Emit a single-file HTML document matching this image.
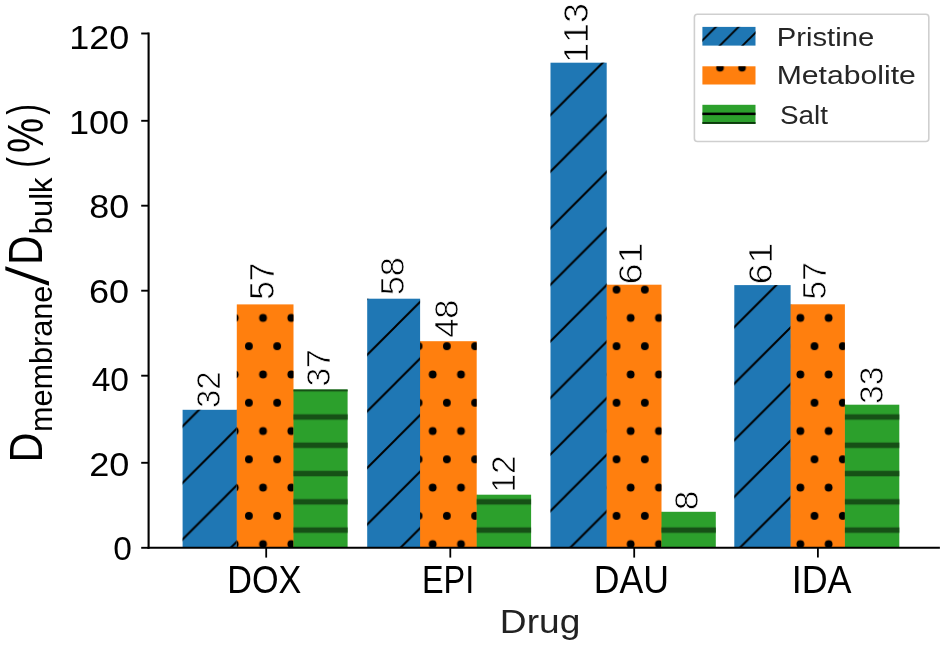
<!DOCTYPE html>
<html><head><meta charset="utf-8"><title>Chart</title>
<style>
html,body{margin:0;padding:0;background:#fff;}
body{width:944px;height:650px;overflow:hidden;}
svg{display:block;}
svg text{font-family:"Liberation Sans", sans-serif;font-kerning:none;white-space:pre;}
svg{will-change:transform;}
</style></head><body>
<svg width="944" height="650" viewBox="0 0 944 650">
<defs>
<pattern id="hd" patternUnits="userSpaceOnUse" x="0" y="43.16" width="56.57" height="56.57">
<path d="M-6,62.57 L62.57,-6 M-6,6 L6,-6 M50.57,62.57 L62.57,50.57" stroke="#000" stroke-width="2.0"/></pattern>
<pattern id="hp" patternUnits="userSpaceOnUse" x="22.66" y="6.84" width="28.28" height="56.56">
<circle cx="0" cy="0" r="3.9"/><circle cx="28.28" cy="0" r="3.9"/><circle cx="0" cy="56.56" r="3.9"/><circle cx="28.28" cy="56.56" r="3.9"/>
<circle cx="14.14" cy="28.28" r="3.9"/></pattern>
<pattern id="hh" patternUnits="userSpaceOnUse" x="0" y="6.94" width="50" height="28.28">
<rect x="0" y="11.39" width="50" height="5.5" fill="#165016"/></pattern>
<pattern id="ld" patternUnits="userSpaceOnUse" x="0" y="16.40" width="22.7" height="22.7">
<path d="M-5,27.7 L27.7,-5 M-5,5 L5,-5 M17.7,27.7 L27.7,17.7" stroke="#000" stroke-width="1.9"/></pattern>
</defs>
<rect x="182.6" y="409.8" width="54.20" height="138.00" fill="#1f77b4"/>
<rect x="236.30" y="409.8" width="1.3" height="138.00" fill="#1f77b4"/>
<rect x="182.6" y="409.8" width="54.20" height="138.00" fill="url(#hd)"/>
<rect x="236.8" y="304.4" width="56.70" height="243.40" fill="#ff7f0e"/>
<rect x="293.00" y="389.5" width="1.3" height="158.30" fill="#ff7f0e"/>
<rect x="236.8" y="304.4" width="56.70" height="243.40" fill="url(#hp)"/>
<rect x="293.5" y="389.5" width="54.10" height="158.30" fill="#2ca02c"/>
<rect x="293.5" y="389.5" width="54.10" height="158.30" fill="url(#hh)"/>
<rect x="367.2" y="298.7" width="52.90" height="249.10" fill="#1f77b4"/>
<rect x="419.60" y="341.2" width="1.3" height="206.60" fill="#1f77b4"/>
<rect x="367.2" y="298.7" width="52.90" height="249.10" fill="url(#hd)"/>
<rect x="420.1" y="341.2" width="56.60" height="206.60" fill="#ff7f0e"/>
<rect x="476.20" y="494.7" width="1.3" height="53.10" fill="#ff7f0e"/>
<rect x="420.1" y="341.2" width="56.60" height="206.60" fill="url(#hp)"/>
<rect x="476.7" y="494.7" width="54.40" height="53.10" fill="#2ca02c"/>
<rect x="476.7" y="494.7" width="54.40" height="53.10" fill="url(#hh)"/>
<rect x="550.5" y="62.7" width="56.20" height="485.10" fill="#1f77b4"/>
<rect x="606.20" y="284.7" width="1.3" height="263.10" fill="#1f77b4"/>
<rect x="550.5" y="62.7" width="56.20" height="485.10" fill="url(#hd)"/>
<rect x="606.7" y="284.7" width="54.80" height="263.10" fill="#ff7f0e"/>
<rect x="661.00" y="511.8" width="1.3" height="36.00" fill="#ff7f0e"/>
<rect x="606.7" y="284.7" width="54.80" height="263.10" fill="url(#hp)"/>
<rect x="661.5" y="511.8" width="54.30" height="36.00" fill="#2ca02c"/>
<rect x="661.5" y="511.8" width="54.30" height="36.00" fill="url(#hh)"/>
<rect x="734.3" y="285.1" width="56.30" height="262.70" fill="#1f77b4"/>
<rect x="790.10" y="304.3" width="1.3" height="243.50" fill="#1f77b4"/>
<rect x="734.3" y="285.1" width="56.30" height="262.70" fill="url(#hd)"/>
<rect x="790.6" y="304.3" width="54.30" height="243.50" fill="#ff7f0e"/>
<rect x="844.40" y="404.7" width="1.3" height="143.10" fill="#ff7f0e"/>
<rect x="790.6" y="304.3" width="54.30" height="243.50" fill="url(#hp)"/>
<rect x="844.9" y="404.7" width="54.40" height="143.10" fill="#2ca02c"/>
<rect x="844.9" y="404.7" width="54.40" height="143.10" fill="url(#hh)"/>
<line x1="148.6" y1="32.5" x2="148.6" y2="548.7" stroke="#000" stroke-width="2.1"/>
<line x1="147.5" y1="547.8" x2="939.9" y2="547.8" stroke="#000" stroke-width="1.9"/>
<line x1="141.2" y1="547.80" x2="148.6" y2="547.80" stroke="#000" stroke-width="1.9"/>
<line x1="141.2" y1="462.80" x2="148.6" y2="462.80" stroke="#000" stroke-width="1.9"/>
<line x1="141.2" y1="375.70" x2="148.6" y2="375.70" stroke="#000" stroke-width="1.9"/>
<line x1="141.2" y1="290.70" x2="148.6" y2="290.70" stroke="#000" stroke-width="1.9"/>
<line x1="141.2" y1="205.70" x2="148.6" y2="205.70" stroke="#000" stroke-width="1.9"/>
<line x1="141.2" y1="120.80" x2="148.6" y2="120.80" stroke="#000" stroke-width="1.9"/>
<line x1="141.2" y1="33.50" x2="148.6" y2="33.50" stroke="#000" stroke-width="1.9"/>
<line x1="266.2" y1="547.8" x2="266.2" y2="557.6" stroke="#000" stroke-width="1.8"/>
<line x1="450.3" y1="547.8" x2="450.3" y2="557.6" stroke="#000" stroke-width="1.8"/>
<line x1="634.2" y1="547.8" x2="634.2" y2="557.6" stroke="#000" stroke-width="1.8"/>
<line x1="817.9" y1="547.8" x2="817.9" y2="557.6" stroke="#000" stroke-width="1.8"/>
<text transform="translate(113.19,560.48) scale(1.0259,1)" font-size="32.63" fill="#000">0</text>
<text transform="translate(89.18,476.27) scale(1.0851,1)" font-size="33.33" fill="#000">20</text>
<text transform="translate(91.63,390.88) scale(1.0213,1)" font-size="32.91" fill="#000">40</text>
<text transform="translate(88.97,303.38) scale(1.1014,1)" font-size="32.77" fill="#000">60</text>
<text transform="translate(89.24,218.38) scale(1.0935,1)" font-size="32.77" fill="#000">80</text>
<text transform="translate(68.95,133.68) scale(1.1070,1)" font-size="32.63" fill="#000">100</text>
<text transform="translate(69.16,48.58) scale(1.0936,1)" font-size="32.91" fill="#000">120</text>
<text transform="translate(227.19,592.73) scale(0.9003,1)" font-size="37.99" fill="#000">DOX</text>
<text transform="translate(421.94,592.60) scale(0.8385,1)" font-size="38.66" fill="#000">EPI</text>
<text transform="translate(593.78,593.02) scale(0.9146,1)" font-size="38.98" fill="#000">DAU</text>
<text transform="translate(791.68,592.60) scale(0.9222,1)" font-size="38.95" fill="#000">IDA</text>
<text transform="translate(219.58,407.95) rotate(-90) scale(1.0044,1)" font-size="32.77" fill="#000" stroke="#fff" stroke-width="0.7">32</text>
<text transform="translate(274.36,299.84) rotate(-90) scale(0.9492,1)" font-size="35.26" fill="#000" stroke="#fff" stroke-width="0.7">57</text>
<text transform="translate(330.27,386.58) rotate(-90) scale(0.9952,1)" font-size="33.76" fill="#000" stroke="#fff" stroke-width="0.7">37</text>
<text transform="translate(403.98,295.28) rotate(-90) scale(1.0411,1)" font-size="33.05" fill="#000" stroke="#fff" stroke-width="0.7">58</text>
<text transform="translate(458.47,337.79) rotate(-90) scale(1.0154,1)" font-size="33.90" fill="#000" stroke="#fff" stroke-width="0.7">48</text>
<text transform="translate(515.20,492.43) rotate(-90) scale(0.9971,1)" font-size="33.37" fill="#000" stroke="#fff" stroke-width="0.7">12</text>
<text transform="translate(587.76,62.82) rotate(-90) scale(1.0406,1)" font-size="34.32" fill="#000" stroke="#fff" stroke-width="0.7">113</text>
<text transform="translate(641.98,284.53) rotate(-90) scale(1.1424,1)" font-size="33.19" fill="#000" stroke="#fff" stroke-width="0.7">61</text>
<text transform="translate(698.47,510.33) rotate(-90) scale(1.0549,1)" font-size="33.33" fill="#000" stroke="#fff" stroke-width="0.7">8</text>
<text transform="translate(771.88,284.51) rotate(-90) scale(1.1481,1)" font-size="32.77" fill="#000" stroke="#fff" stroke-width="0.7">61</text>
<text transform="translate(826.18,299.44) rotate(-90) scale(1.0108,1)" font-size="33.11" fill="#000" stroke="#fff" stroke-width="0.7">57</text>
<text transform="translate(883.08,403.88) rotate(-90) scale(1.0118,1)" font-size="33.19" fill="#000" stroke="#fff" stroke-width="0.7">33</text>
<text transform="translate(499.86,633.19) scale(1.1152,1)" font-size="33.28" fill="#222">Drug</text>
<text transform="translate(41.50,462.59) rotate(-90) scale(0.8949,1)" font-size="46.22" fill="#000">D</text>
<text transform="translate(52.20,432.03) rotate(-90) scale(0.9944,1)" font-size="30.80" fill="#000">membrane</text>
<polygon points="5.3,266.25 49.0,281.55 49.0,285.65 5.3,270.35" fill="#000"/>
<text transform="translate(42.40,264.72) rotate(-90) scale(0.8499,1)" font-size="47.68" fill="#000">D</text>
<text transform="translate(52.20,234.30) rotate(-90) scale(1.0062,1)" font-size="30.80" fill="#000">bulk</text>
<text transform="translate(40.41,167.71) rotate(-90) scale(0.6931,1)" font-size="46.80" fill="#000">(</text>
<text transform="translate(42.81,153.11) rotate(-90) scale(0.8010,1)" font-size="49.31" fill="#000">%</text>
<text transform="translate(40.41,114.69) rotate(-90) scale(0.6931,1)" font-size="46.80" fill="#000">)</text>
<rect x="694.4" y="14.2" width="234.4" height="127.3" rx="3" ry="3" fill="#fff" stroke="#cfcfcf" stroke-width="1.6"/>
<rect x="702.4" y="26.9" width="53.1" height="18.7" fill="#1f77b4"/>
<rect x="702.4" y="26.9" width="53.1" height="18.7" fill="url(#ld)"/>
<rect x="702.4" y="66.3" width="53.1" height="18.2" fill="#ff7f0e"/>
<svg x="702.4" y="66.3" width="53.1" height="18.2" overflow="hidden"><circle cx="17.6" cy="1.5" r="3.8"/><circle cx="39.6" cy="1.5" r="3.8"/></svg>
<rect x="702.4" y="104.8" width="53.1" height="19.1" fill="#2ca02c"/>
<rect x="702.4" y="112.6" width="53.1" height="2.5" fill="#000"/>
<rect x="702.4" y="122.0" width="53.1" height="1.9" fill="#0d3a0d"/>
<text transform="translate(776.80,45.60) scale(1.1053,1)" font-size="26.45" fill="#262626">Pristine</text>
<text transform="translate(776.72,84.10) scale(1.1406,1)" font-size="26.45" fill="#262626">Metabolite</text>
<text transform="translate(780.04,123.60) scale(1.0523,1)" font-size="26.45" fill="#262626">Salt</text>
</svg>
</body></html>
